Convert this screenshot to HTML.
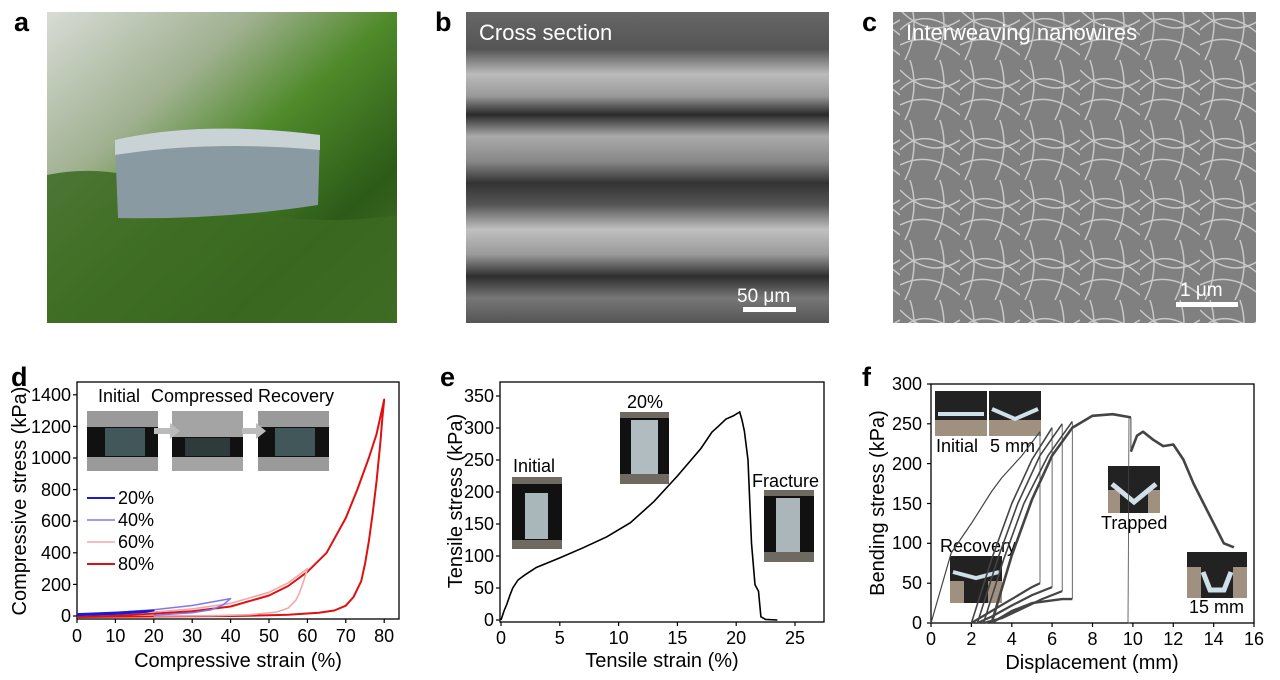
<!DOCTYPE html>
<html><head><meta charset="utf-8"><style>
body{margin:0;background:#fff;}
svg{display:block;font-family:"Liberation Sans",Arial,sans-serif;}
</style></head><body>
<svg width="1280" height="680" viewBox="0 0 1280 680" xmlns="http://www.w3.org/2000/svg">
<defs>
<linearGradient id="ga" x1="0" y1="0" x2="1" y2="1">
<stop offset="0" stop-color="#d8dcd6"/><stop offset="0.3" stop-color="#9fb08f"/><stop offset="0.5" stop-color="#4f8a2a"/><stop offset="0.75" stop-color="#2c5a18"/><stop offset="1" stop-color="#4d7a2c"/></linearGradient>
<linearGradient id="gb" x1="0" y1="0" x2="0" y2="1">
<stop offset="0" stop-color="#666"/><stop offset="0.12" stop-color="#555"/><stop offset="0.2" stop-color="#bbb"/><stop offset="0.27" stop-color="#999"/><stop offset="0.33" stop-color="#2a2a2a"/><stop offset="0.4" stop-color="#aaa"/><stop offset="0.48" stop-color="#888"/><stop offset="0.55" stop-color="#333"/><stop offset="0.62" stop-color="#555"/><stop offset="0.7" stop-color="#c0c0c0"/><stop offset="0.78" stop-color="#999"/><stop offset="0.85" stop-color="#2e2e2e"/><stop offset="0.92" stop-color="#777"/><stop offset="1" stop-color="#555"/></linearGradient>
<pattern id="pc" width="60" height="60" patternUnits="userSpaceOnUse">
<rect width="60" height="60" fill="#808080"/>
<path d="M0 10 Q30 40 60 20 M10 0 Q20 30 5 60 M0 45 Q30 30 60 55 M40 0 Q50 30 35 60 M0 30 Q25 5 60 35" stroke="#c8c8c8" stroke-width="1.5" fill="none"/>
</pattern>
</defs>

<g font-weight="bold" font-size="27" fill="#000">
<text x="14" y="31">a</text><text x="435" y="31">b</text><text x="862" y="31">c</text>
<text x="11" y="386">d</text><text x="440" y="386">e</text><text x="862" y="386">f</text>
</g>

<!-- a -->
<rect x="47" y="12" width="350" height="311" fill="url(#ga)"/>
<path d="M47 175 Q120 160 200 200 Q300 230 397 215 L397 323 L47 323Z" fill="#3c6a22" opacity="0.85"/>
<path d="M115 140 Q200 120 320 135 L318 205 Q220 220 118 218Z" fill="#8a9aa2"/>
<path d="M115 140 Q200 120 320 135 L320 150 Q210 140 115 155Z" fill="#c9d2d4"/>

<!-- b -->
<rect x="466" y="12" width="363" height="311" fill="url(#gb)"/>
<text x="479" y="40" font-size="22" fill="#fff">Cross section</text>
<text x="737" y="302" font-size="19" fill="#fff">50 μm</text>
<rect x="743" y="307" width="53" height="5" fill="#fff"/>

<!-- c -->
<rect x="893" y="12" width="363" height="311" fill="url(#pc)"/>
<text x="906" y="40" font-size="22" fill="#fff">Interweaving nanowires</text>
<text x="1180" y="296" font-size="19" fill="#fff">1 μm</text>
<rect x="1176" y="302" width="62" height="5" fill="#fff"/>

<!-- ===== d ===== -->
<g font-size="18" fill="#000">
<rect x="77" y="382" width="322" height="237" fill="none" stroke="#000" stroke-width="1.3"/>
<g stroke="#000" stroke-width="1.2">
<line x1="77" y1="616" x2="73" y2="616"/><line x1="77" y1="584.4" x2="73" y2="584.4"/><line x1="77" y1="552.8" x2="73" y2="552.8"/><line x1="77" y1="521.2" x2="73" y2="521.2"/><line x1="77" y1="489.6" x2="73" y2="489.6"/><line x1="77" y1="458" x2="73" y2="458"/><line x1="77" y1="426.4" x2="73" y2="426.4"/><line x1="77" y1="394.8" x2="73" y2="394.8"/>
<line x1="77" y1="619" x2="77" y2="623"/><line x1="115.4" y1="619" x2="115.4" y2="623"/><line x1="153.8" y1="619" x2="153.8" y2="623"/><line x1="192.2" y1="619" x2="192.2" y2="623"/><line x1="230.6" y1="619" x2="230.6" y2="623"/><line x1="269" y1="619" x2="269" y2="623"/><line x1="307.4" y1="619" x2="307.4" y2="623"/><line x1="345.8" y1="619" x2="345.8" y2="623"/><line x1="384.2" y1="619" x2="384.2" y2="623"/>
</g>
<g text-anchor="end">
<text x="71" y="622">0</text><text x="71" y="591">200</text><text x="71" y="559">400</text><text x="71" y="527">600</text><text x="71" y="496">800</text><text x="71" y="464">1000</text><text x="71" y="433">1200</text><text x="71" y="401">1400</text>
</g>
<g text-anchor="middle">
<text x="77" y="642">0</text><text x="115.4" y="642">10</text><text x="153.8" y="642">20</text><text x="192.2" y="642">30</text><text x="230.6" y="642">40</text><text x="269" y="642">50</text><text x="307.4" y="642">60</text><text x="345.8" y="642">70</text><text x="384.2" y="642">80</text>
</g>
<text x="238" y="667" font-size="20" text-anchor="middle">Compressive strain (%)</text>
<text transform="translate(26,501) rotate(-90)" font-size="20" text-anchor="middle">Compressive stress (kPa)</text>
<text x="98" y="402">Initial</text><text x="151" y="402">Compressed</text><text x="258" y="402">Recovery</text>
</g>
<g>
<rect x="87" y="411" width="71" height="60" fill="#9a9a9a"/><rect x="87" y="427" width="71" height="30" fill="#111"/><rect x="105" y="428" width="40" height="28" fill="#42575a"/>
<rect x="172" y="411" width="71" height="60" fill="#a4a4a4"/><rect x="172" y="437" width="71" height="20" fill="#111"/><rect x="185" y="438" width="45" height="18" fill="#2f3a3a"/>
<rect x="258" y="411" width="71" height="60" fill="#9a9a9a"/><rect x="258" y="427" width="71" height="30" fill="#111"/><rect x="275" y="428" width="40" height="28" fill="#42575a"/>
<path d="M154 428 L170 428 L170 423 L180 431 L170 439 L170 434 L154 434Z" fill="#bbb"/>
<path d="M242 428 L256 428 L256 423 L266 431 L256 439 L256 434 L242 434Z" fill="#bbb"/>
</g>
<g font-size="18">
<line x1="87" y1="498" x2="115" y2="498" stroke="#1a1ad0" stroke-width="2"/><text x="118" y="504">20%</text>
<line x1="87" y1="520" x2="115" y2="520" stroke="#7a7af0" stroke-width="1.5"/><text x="118" y="526">40%</text>
<line x1="87" y1="542" x2="115" y2="542" stroke="#f2a8a8" stroke-width="1.5"/><text x="118" y="548">60%</text>
<line x1="87" y1="564" x2="115" y2="564" stroke="#e01010" stroke-width="2"/><text x="118" y="570">80%</text>
</g>
<g fill="none" stroke-linejoin="round">
<path d="M77,616 L115.4,615.2 L153.8,613.6 L192.2,611.3 L230.6,606.5 L269,595.5 L288.2,586 L307.4,571.8 L326.6,552.8 L345.8,518 L357.3,489.6 L368.8,458 L376.5,434.3 L384.2,399.5 L382.3,418.5 L380.4,442.2 L376.5,481.7 L372.7,513.3 L368.8,541.7 L365,563.9 L361.2,581.2 L353.5,597 L345.8,605.7 L334.3,610.5 L318.9,612.8 L288.2,614.7 L249.8,615.7 L230.6,616 L77,617" stroke="#e01010" stroke-width="2"/>
<path d="M77,615.2 L115.4,614.1 L153.8,612 L192.2,608.9 L230.6,603.4 L269,592.3 L288.2,582.8 L307.4,568.6 L305.5,574.9 L303.6,581.2 L299.7,592.3 L295.9,600.2 L288.2,608.1 L276.7,612 L249.8,614.7 L211.4,615.7 L153.8,616" stroke="#f2a8a8" stroke-width="1.6"/>
<path d="M77,614.4 L115.4,612.5 L153.8,609.7 L192.2,605.5 L230.6,598.6 L226,602.5 L222.9,605 L211.4,609.7 L192.2,612.8 L153.8,615.2" stroke="#7a7af0" stroke-width="1.5"/>
<path d="M77,614 L115.4,612.5 L153.8,610.5 L146,612 L115,614 L77,615.2" stroke="#1a1ad0" stroke-width="1.8"/>
</g>

<!-- ===== e ===== -->
<g font-size="18" fill="#000">
<rect x="500" y="382" width="324" height="240" fill="none" stroke="#000" stroke-width="1.3"/>
<g stroke="#000" stroke-width="1.2">
<line x1="500" y1="620" x2="496" y2="620"/><line x1="500" y1="588" x2="496" y2="588"/><line x1="500" y1="556" x2="496" y2="556"/><line x1="500" y1="524" x2="496" y2="524"/><line x1="500" y1="492" x2="496" y2="492"/><line x1="500" y1="460" x2="496" y2="460"/><line x1="500" y1="428" x2="496" y2="428"/><line x1="500" y1="396" x2="496" y2="396"/>
<line x1="501" y1="622" x2="501" y2="626"/><line x1="559.8" y1="622" x2="559.8" y2="626"/><line x1="618.6" y1="622" x2="618.6" y2="626"/><line x1="677.4" y1="622" x2="677.4" y2="626"/><line x1="736.2" y1="622" x2="736.2" y2="626"/><line x1="795" y1="622" x2="795" y2="626"/>
</g>
<g text-anchor="end">
<text x="494" y="626">0</text><text x="494" y="594">50</text><text x="494" y="562">100</text><text x="494" y="530">150</text><text x="494" y="498">200</text><text x="494" y="466">250</text><text x="494" y="434">300</text><text x="494" y="402">350</text>
</g>
<g text-anchor="middle">
<text x="501" y="644">0</text><text x="559.8" y="644">5</text><text x="618.6" y="644">10</text><text x="677.4" y="644">15</text><text x="736.2" y="644">20</text><text x="795" y="644">25</text>
</g>
<text x="662" y="667" font-size="20" text-anchor="middle">Tensile strain (%)</text>
<text transform="translate(462,501) rotate(-90)" font-size="20" text-anchor="middle">Tensile stress (kPa)</text>
<text x="513" y="472">Initial</text><text x="627" y="408">20%</text><text x="752" y="487">Fracture</text>
</g>
<g>
<rect x="512" y="477" width="50" height="72" fill="#6e6a62"/><rect x="512" y="484" width="50" height="56" fill="#111"/><rect x="525" y="493" width="23" height="46" fill="#a9b6ba"/>
<rect x="620" y="412" width="49" height="72" fill="#6e6a62"/><rect x="620" y="418" width="49" height="56" fill="#111"/><rect x="631" y="420" width="27" height="54" fill="#b0bcc0"/>
<rect x="764" y="490" width="50" height="72" fill="#6e6a62"/><rect x="764" y="496" width="50" height="56" fill="#111"/><rect x="776" y="498" width="24" height="54" fill="#aab6ba"/>
</g>
<path d="M501,620 L504,611 L506.9,604 L510,595 L512.8,588 L518,580 L524.5,575.2 L536.3,567.5 L559.8,557.9 L583.3,547.7 L606.8,536.8 L630.4,522.7 L653.9,501.6 L677.4,476 L700.9,448.5 L712,432 L718.6,426.1 L726,419 L733,416 L739.7,412 L742,420 L744.4,431.2 L748,460 L751.5,543.2 L755,584.8 L758.5,591.2 L760.9,616.8 L765.6,619.4 L777.4,620" fill="none" stroke="#000" stroke-width="1.6"/>

<!-- ===== f ===== -->
<g font-size="18" fill="#000">
<rect x="931" y="384" width="323" height="239" fill="none" stroke="#000" stroke-width="1.3"/>
<g stroke="#000" stroke-width="1.2">
<line x1="931" y1="623" x2="927" y2="623"/><line x1="931" y1="583.2" x2="927" y2="583.2"/><line x1="931" y1="543.3" x2="927" y2="543.3"/><line x1="931" y1="503.5" x2="927" y2="503.5"/><line x1="931" y1="463.6" x2="927" y2="463.6"/><line x1="931" y1="423.8" x2="927" y2="423.8"/><line x1="931" y1="384" x2="927" y2="384"/>
<line x1="931" y1="623" x2="931" y2="627"/><line x1="971.4" y1="623" x2="971.4" y2="627"/><line x1="1011.8" y1="623" x2="1011.8" y2="627"/><line x1="1052.1" y1="623" x2="1052.1" y2="627"/><line x1="1092.5" y1="623" x2="1092.5" y2="627"/><line x1="1132.9" y1="623" x2="1132.9" y2="627"/><line x1="1173.3" y1="623" x2="1173.3" y2="627"/><line x1="1213.7" y1="623" x2="1213.7" y2="627"/><line x1="1254" y1="623" x2="1254" y2="627"/>
</g>
<g text-anchor="end">
<text x="922" y="629">0</text><text x="922" y="589">50</text><text x="922" y="549">100</text><text x="922" y="510">150</text><text x="922" y="470">200</text><text x="922" y="430">250</text><text x="922" y="390">300</text>
</g>
<g text-anchor="middle">
<text x="931" y="645">0</text><text x="971.4" y="645">2</text><text x="1011.8" y="645">4</text><text x="1052.1" y="645">6</text><text x="1092.5" y="645">8</text><text x="1132.9" y="645">10</text><text x="1173.3" y="645">12</text><text x="1213.7" y="645">14</text><text x="1254" y="645">16</text>
</g>
<text x="1092" y="669" font-size="20" text-anchor="middle">Displacement (mm)</text>
<text transform="translate(884,503) rotate(-90)" font-size="20" text-anchor="middle">Bending stress (kPa)</text>
<text x="936" y="452">Initial</text><text x="990" y="452">5 mm</text><text x="1101" y="529">Trapped</text><text x="940" y="552">Recovery</text><text x="1189" y="613">15 mm</text>
</g>
<g>
<rect x="935" y="391" width="52" height="45" fill="#222"/><rect x="935" y="420" width="52" height="16" fill="#a09080"/><rect x="938" y="412" width="46" height="4" fill="#cfe0e8"/>
<rect x="989" y="391" width="52" height="45" fill="#222"/><rect x="989" y="420" width="52" height="16" fill="#a09080"/><path d="M992 409 L1015 419 L1038 409" stroke="#cfe0e8" stroke-width="4" fill="none"/>
<rect x="1108" y="466" width="52" height="47" fill="#222"/><rect x="1108" y="490" width="12" height="23" fill="#a09080"/><rect x="1148" y="490" width="12" height="23" fill="#a09080"/><path d="M1112 484 L1134 502 L1156 484" stroke="#cfe0e8" stroke-width="5" fill="none"/>
<rect x="950" y="556" width="52" height="47" fill="#222"/><rect x="950" y="581" width="14" height="22" fill="#a09080"/><rect x="988" y="581" width="14" height="22" fill="#a09080"/><path d="M953 572 L976 578 L999 572" stroke="#cfe0e8" stroke-width="4" fill="none"/>
<rect x="1187" y="552" width="60" height="46" fill="#222"/><rect x="1187" y="567" width="14" height="31" fill="#a09080"/><rect x="1233" y="567" width="14" height="31" fill="#a09080"/><path d="M1203 572 L1210 590 L1224 590 L1231 572" stroke="#cfe0e8" stroke-width="5" fill="none"/>
</g>
<g fill="none" stroke="#444" stroke-linejoin="round">
<path d="M931,623 L951.2,552.9 L971.4,523.4 L991.6,491.5 L1001.7,477.9 L1021.9,455.6 L1040,431.7" stroke-width="1.2"/>
<path d="M1040,431.7 L1040,583.2 M1052.1,427.7 L1052.1,587.1 M1062.2,423.8 L1062.2,591.1 M1072.3,422.2 L1072.3,599.1 M1129,417 L1128,623 L1130,623" stroke-width="0.8"/>
<path d="M1040,583.2 L1031.9,587.1 L1011.8,599.1 L991.6,611 L971.4,623" stroke-width="2.2"/>
<path d="M971.4,623 L991.6,559.2 L1011.8,503.5 L1032,459.6 L1052.1,427.7" stroke-width="1.6"/>
<path d="M1052.1,587.1 L1032,595.1 L1011.8,605.5 L991.6,616.6 L977.4,623" stroke-width="2.2"/>
<path d="M977.4,623 L997.6,559.2 L1017.8,503.5 L1040,455.6 L1062.2,423.8" stroke-width="1.6"/>
<path d="M1062.2,591.1 L1042,599.1 L1021.9,608.7 L1001.7,618.2 L983.5,623" stroke-width="2.2"/>
<path d="M983.5,623 L1003.7,559.2 L1023.9,503.5 L1048.1,455.6 L1072.3,421.4" stroke-width="1.6"/>
<path d="M1072.3,599.1 L1062.2,599.1 L1032,603.1 L1011.8,611 L991.6,623" stroke-width="2.4"/>
<path d="M991.6,623 L1011.8,555.3 L1032,499.5 L1052.1,455.6 L1072.3,427.7 L1092.5,415.8 L1112.7,414.2 L1130.9,417.4" stroke-width="2.6"/>
<path d="M1130.9,451.6 L1137,435.7 L1143,431.7 L1153.1,439.7 L1163.2,446.1 L1173.3,444.5 L1183.4,459.6 L1193.5,483.5 L1203.6,503.5 L1213.7,523.4 L1223.8,543.3 L1233.9,547.3" stroke-width="2.6"/>
<path d="M1130.9,417.4 L1130.9,451.6" stroke-width="1"/>
</g>
</svg>
</body></html>
